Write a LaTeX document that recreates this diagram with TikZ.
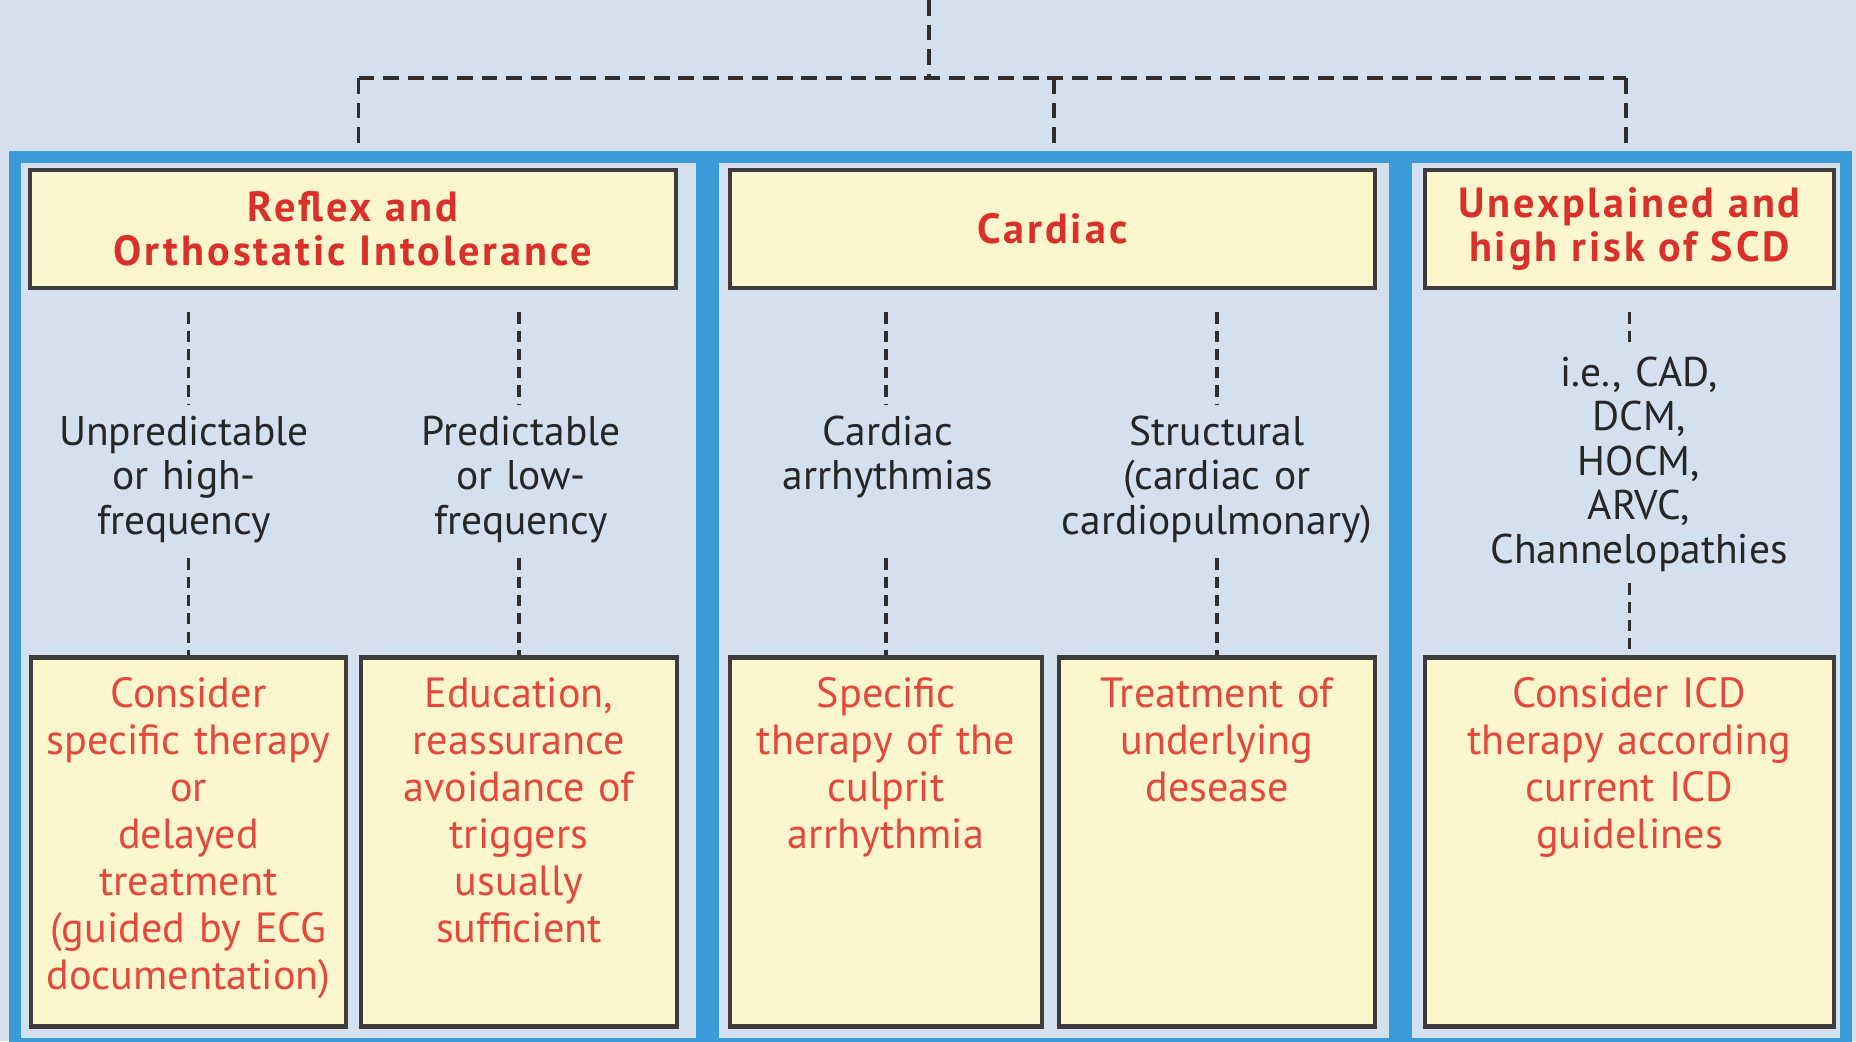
\documentclass[tikz,border=0pt]{standalone}
\usepackage{fontspec}
\setmainfont{PT Sans}

\definecolor{bgblue}{HTML}{D5E0EF}
\definecolor{frameblue}{HTML}{3A9BD8}
\definecolor{boxyellow}{HTML}{FBF6CB}
\definecolor{boxgrey}{HTML}{3C3C3C}
\definecolor{headred}{HTML}{D9302C}
\definecolor{bodyred}{HTML}{E4473E}
\definecolor{darktext}{HTML}{262626}
\definecolor{linegrey}{HTML}{2E2E2E}

\tikzset{
  panel/.style={draw=frameblue, line width=0.12cm, fill=bgblue, inner sep=0pt},
  head/.style={draw=boxgrey, line width=1.3pt, fill=boxyellow, text=headred,
    font=\bfseries\fontsize{12}{12.4}\selectfont\addfontfeatures{LetterSpace=7},
    align=center, minimum height=1.18cm},
  treat/.style={draw=boxgrey, line width=1.3pt, fill=boxyellow, text=bodyred,
    font=\fontsize{12}{13.4}\selectfont, align=center, anchor=north,
    inner sep=0.1cm, text height=0.4cm, text depth=3.09cm},
  cause/.style={text=darktext, font=\fontsize{11.8}{12.6}\selectfont,
    text width=3.4cm, align=center, anchor=north, inner sep=0.1cm,
    text height=0.3cm, text depth=0.92cm},
  link/.style={draw=linegrey, line width=1.1pt, dash pattern=on 4.5pt off 2.5pt},
  sublink/.style={link, dash pattern=on 3.2pt off 2pt},
}

\begin{document}
\begin{tikzpicture}[x=1cm,y=1cm]
    \fill[bgblue] (0,0) rectangle (18.56,10.41);
    \useasboundingbox (0,0) rectangle (18.56,10.41);

    %% blue panels
    \node[panel, minimum width=6.87cm, minimum height=8.87cm] (p1) at (3.585,4.405) {};
    \node[panel, minimum width=6.82cm, minimum height=8.87cm] (p2) at (10.54,4.405) {};
    \node[panel, minimum width=4.40cm, minimum height=8.87cm] (p3) at (16.26,4.405) {};

    %% headers
    \node[head, minimum width=6.46cm] (h1) at (3.53,8.12) {Reflex and\\Orthostatic Intolerance};
    \node[head, minimum width=6.45cm] (h2) at (10.525,8.12) {Cardiac};
    \node[head, minimum width=4.09cm] (h3) at (16.295,8.12) {Unexplained and\\high risk of SCD};

    %% causes
    \node[cause] (c1) at (1.84,6.36) {Unpredictable\\or high-\\frequency};
    \node[cause] (c2) at (5.21,6.36) {Predictable\\or low-\\frequency};
    \node[cause] (c3) at (8.88,6.36) {Cardiac\\arrhythmias};
    \node[cause] (c4) at (12.17,6.36) {Structural\\(cardiac or\\cardiopulmonary)};
    \node[cause, text depth=1.76cm] (c5) at (16.39,6.95) {i.e., CAD,\\DCM,\\HOCM,\\ARVC,\\Channelopathies};

    %% treatment
    \node[treat, text width=2.95cm] (t1) at (1.885,3.86) {Consider\\specific therapy\\or\\delayed\\treatment\\(guided by ECG\\documentation)};
    \node[treat, text width=2.96cm] (t2) at (5.19,3.86) {Education,\\reassurance\\avoidance of\\triggers\\usually\\sufficient};
    \node[treat, text width=2.92cm] (t3) at (8.86,3.86) {Specific\\therapy of the\\culprit\\arrhythmia};
    \node[treat, text width=2.96cm] (t4) at (12.17,3.86) {Treatment of\\underlying\\desease};
    \node[treat, text width=3.89cm] (t5) at (16.295,3.86) {Consider ICD\\therapy according\\current ICD\\guidelines};

    %% top connectors
    \coordinate (src) at (9.29,10.41);
    \coordinate (fork) at (9.29,9.63);
    \draw[link] (src) -- (fork);
    \draw[link] (p1.north |- fork) -- (p3.north |- fork);
    \foreach \p in {p1,p2,p3}
        \draw[link] (\p.north |- fork) -- (\p.north);

    %% panel connectors
    \foreach \i/\h in {1/h1,2/h1,3/h2,4/h2,5/h3} {
        \draw[sublink, shorten <=0.22cm] (t\i.north |- \h.south) -- (t\i.north |- c\i.north);
        \draw[sublink, shorten <=0.1cm] (t\i.north |- c\i.south) -- (t\i.north);
    }
\end{tikzpicture}
\end{document}
